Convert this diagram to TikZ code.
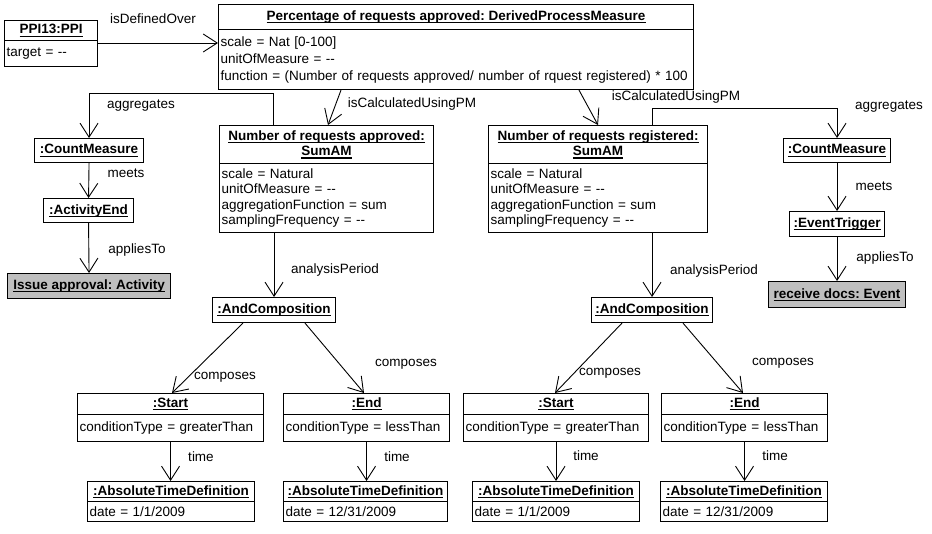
\documentclass[tikz,border=0pt]{standalone}
\usepackage{fontspec}
\setmainfont{Liberation Sans}
\usetikzlibrary{arrows.meta}
% underline a bold object name with a thin rule just below the baseline
\newcommand\umlul[1]{\setbox0\hbox{#1}\rlap{\vrule height -1.6pt depth 2.7pt width \wd0}\box0}

\begin{document}
\frenchspacing
\begin{tikzpicture}[x=1pt,y=-1pt,
  every node/.style={font=\fontsize{13.5}{15.5}\selectfont},
  ttl/.style={draw, line width=1.1pt, fill=white, anchor=north west, inner sep=0pt,
              align=center, font=\fontsize{13.5}{15.5}\selectfont\bfseries},
  refbox/.style={ttl, fill=black!25},
  attr/.style={draw, line width=1.1pt, fill=white, anchor=north west,
               inner xsep=2pt, inner ysep=0pt, align=left},
  lbl/.style={inner sep=0pt},
  assoc/.style={line width=0.9pt, -{Straight Barb[length=14pt,width=18pt,line width=0.9pt]}}
]
\fill[white] (0,0) rectangle (932,533);
\path[use as bounding box] (0,0) rectangle (932,533);

% ---------- objects ----------
\node[ttl, minimum width=93pt, minimum height=20pt] (ppiT) at (4,20) {\umlul{PPI13:PPI}};
\node[attr, text width=89pt, minimum height=26pt] (ppiA) at (4,40) {target = -{}-};

\node[ttl, minimum width=475pt, minimum height=25pt] (pctT) at (218,4)
  {\umlul{Percentage of requests approved: DerivedProcessMeasure}};
\node[attr, text width=471pt, minimum height=60pt, font=\fontsize{13.5}{17}\selectfont] (pctA) at (218,29)
  {scale = Nat [0-100]\\unitOfMeasure = -{}-\\\mbox{function = (Number of requests approved/ number of rquest registered) * 100}};

\node[ttl, minimum width=214pt, minimum height=38pt] (sumLT) at (219,125)
  {\umlul{Number of requests approved:}\\\umlul{SumAM}};
\node[attr, text width=210pt, minimum height=69pt] (sumLA) at (219,163)
  {scale = Natural\\unitOfMeasure = -{}-\\aggregationFunction = sum\\samplingFrequency = -{}-};

\node[ttl, minimum width=219pt, minimum height=38pt] (sumRT) at (488,125)
  {\umlul{Number of requests registered:}\\\umlul{SumAM}};
\node[attr, text width=215pt, minimum height=69pt] (sumRA) at (488,163)
  {scale = Natural\\unitOfMeasure = -{}-\\aggregationFunction = sum\\samplingFrequency = -{}-};

\node[ttl, minimum width=109pt, minimum height=24pt] (cntL) at (34,138) {\umlul{:CountMeasure}};
\node[ttl, minimum width=90pt, minimum height=24pt] (actEnd) at (43,198) {\umlul{:ActivityEnd}};
\node[refbox, minimum width=163pt, minimum height=25pt] (issue) at (7,273) {\umlul{Issue approval: Activity}};

\node[ttl, minimum width=107pt, minimum height=24pt] (cntR) at (783,138) {\umlul{:CountMeasure}};
\node[ttl, minimum width=95pt, minimum height=25pt] (evTrig) at (789,211) {\umlul{:EventTrigger}};
\node[refbox, minimum width=137pt, minimum height=26pt] (recv) at (768,281) {\umlul{receive docs: Event}};

\node[ttl, minimum width=123pt, minimum height=25pt] (andL) at (212,297) {\umlul{:AndComposition}};
\node[ttl, minimum width=121pt, minimum height=25pt] (andR) at (591,297) {\umlul{:AndComposition}};

\node[ttl, minimum width=186pt, minimum height=21pt] (startLT) at (77,393) {\umlul{:Start}};
\node[attr, text width=182pt, minimum height=27pt] (startLA) at (77,414) {conditionType = greaterThan};
\node[ttl, minimum width=166pt, minimum height=21pt] (endLT) at (283,393) {\umlul{:End}};
\node[attr, text width=162pt, minimum height=27pt] (endLA) at (283,414) {conditionType = lessThan};
\node[ttl, minimum width=185pt, minimum height=21pt] (startRT) at (463,393) {\umlul{:Start}};
\node[attr, text width=181pt, minimum height=27pt] (startRA) at (463,414) {conditionType = greaterThan};
\node[ttl, minimum width=166pt, minimum height=21pt] (endRT) at (661,393) {\umlul{:End}};
\node[attr, text width=162pt, minimum height=27pt] (endRA) at (661,414) {conditionType = lessThan};

\node[ttl, minimum width=167pt, minimum height=20pt] (absLLT) at (87,481) {\umlul{:AbsoluteTimeDefinition}};
\node[attr, text width=163pt, minimum height=20pt] (absLLA) at (87,501) {date = 1/1/2009};
\node[ttl, minimum width=164pt, minimum height=20pt] (absLRT) at (283,481) {\umlul{:AbsoluteTimeDefinition}};
\node[attr, text width=160pt, minimum height=20pt] (absLRA) at (283,501) {date = 12/31/2009};
\node[ttl, minimum width=167pt, minimum height=20pt] (absRLT) at (472,481) {\umlul{:AbsoluteTimeDefinition}};
\node[attr, text width=163pt, minimum height=20pt] (absRLA) at (472,501) {date = 1/1/2009};
\node[ttl, minimum width=167pt, minimum height=20pt] (absRRT) at (660,481) {\umlul{:AbsoluteTimeDefinition}};
\node[attr, text width=163pt, minimum height=20pt] (absRRA) at (660,501) {date = 12/31/2009};

% ---------- links ----------
\draw[assoc] (ppiA.east |- 0,43) -- (pctA.west |- 0,43);
\draw[assoc] (341,0 |- pctA.south) -- (328,0 |- sumLT.north);
\draw[assoc] (579,0 |- pctA.south) -- (598,0 |- sumRT.north);

\coordinate (aggL) at (273,93);
\draw[assoc] (aggL |- sumLT.north) -- (aggL) -| (cntL.north);
\coordinate (aggR) at (652,108);
\draw[assoc] (aggR |- sumRT.north) -- (aggR) -| (cntR.north);

\draw[assoc] (cntL.south) -- (actEnd.north);
\draw[assoc] (actEnd.south) -- (issue.north);
\draw[assoc] (cntR.south) -- (evTrig.north);
\draw[assoc] (evTrig.south) -- (recv.north);

\draw[assoc] (andL.north |- sumLA.south) -- (andL.north);
\draw[assoc] (andR.north |- sumRA.south) -- (andR.north);

\draw[assoc] (243,0 |- andL.south) -- (172,0 |- startLT.north);
\draw[assoc] (305,0 |- andL.south) -- (364,0 |- endLT.north);
\draw[assoc] (622,0 |- andR.south) -- (555,0 |- startRT.north);
\draw[assoc] (683,0 |- andR.south) -- (743,0 |- endRT.north);

\draw[assoc] (startLA.south) -- (startLA.south |- absLLT.north);
\draw[assoc] (endLA.south) -- (endLA.south |- absLRT.north);
\draw[assoc] (startRA.south) -- (startRA.south |- absRLT.north);
\draw[assoc] (endRA.south) -- (endRA.south |- absRRT.north);

% ---------- link labels ----------
\node[lbl] (lDef) at (153,19) {isDefinedOver};
\node[lbl] (lAggL) at (141,106) {aggregates};
\node[lbl] (lMeetsL) at (126,173) {meets};
\node[lbl] (lAppL) at (137,250) {appliesTo};
\node[lbl] (lCalcL) at (412,104) {isCalculatedUsingPM};
\node[lbl] (lCalcR) at (676,97) {isCalculatedUsingPM};
\node[lbl] (lAggR) at (889,107) {aggregates};
\node[lbl] (lMeetsR) at (874,186) {meets};
\node[lbl] (lAppR) at (885,258) {appliesTo};
\node[lbl] (lAnaL) at (335,270) {analysisPeriod};
\node[lbl] (lAnaR) at (714,271) {analysisPeriod};
\node[lbl] (lCompLL) at (225,377) {composes};
\node[lbl] (lCompLR) at (406,364) {composes};
\node[lbl] (lCompRL) at (610,373) {composes};
\node[lbl] (lCompRR) at (783,363) {composes};
\node[lbl] (lTimeLL) at (201,457) {time};
\node[lbl] (lTimeLR) at (397,457) {time};
\node[lbl] (lTimeRL) at (586,456) {time};
\node[lbl] (lTimeRR) at (775,456) {time};
\end{tikzpicture}
\end{document}
